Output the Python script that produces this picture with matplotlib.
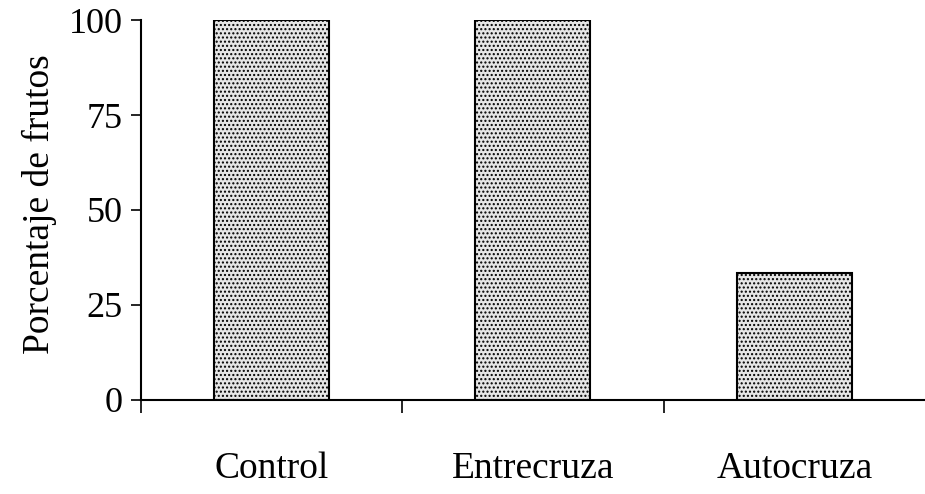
import numpy as np
import matplotlib.pyplot as plt

categories = ['Control', 'Entrecruza', 'Autocruza']
porcentaje = [100, 100, 33.3]
yticks = [0, 25, 50, 75, 100]

plt.rcParams['font.family'] = ['Liberation Serif', 'DejaVu Serif']
plt.rcParams['hatch.color'] = '#555555'
plt.rcParams['hatch.linewidth'] = 1.0

fig = plt.figure(figsize=(9.25, 4.94), dpi=100)
ax = fig.add_axes([0.1524, 0.1903, 0.8476, 0.7692])

x = np.arange(len(categories)) + 0.5
ax.bar(x, porcentaje, width=0.44, color='#e6e6e6', edgecolor='black',
       linewidth=1.5, hatch='....')

ax.set_xlim(0, 3)
ax.set_ylim(0, 100)
ax.set_yticks(yticks)
ax.set_xticks([0, 1, 2])
ax.set_xticklabels([])
ax.set_xticks(x, minor=True)
ax.set_xticklabels(categories, minor=True)

ax.spines['top'].set_visible(False)
ax.spines['right'].set_visible(False)
ax.spines['left'].set_linewidth(1.5)
ax.spines['bottom'].set_linewidth(1.5)

ax.tick_params(axis='y', direction='out', length=7, width=1.2, labelsize=26, pad=6)
ax.tick_params(axis='x', which='major', direction='out', length=9, width=1.2)
ax.tick_params(axis='x', which='minor', length=0, labelsize=27, pad=37)

ax.set_ylabel('Porcentaje de frutos', fontsize=27)
ax.yaxis.set_label_coords(-0.107, 0.515)

plt.savefig('out.png', dpi=100)
